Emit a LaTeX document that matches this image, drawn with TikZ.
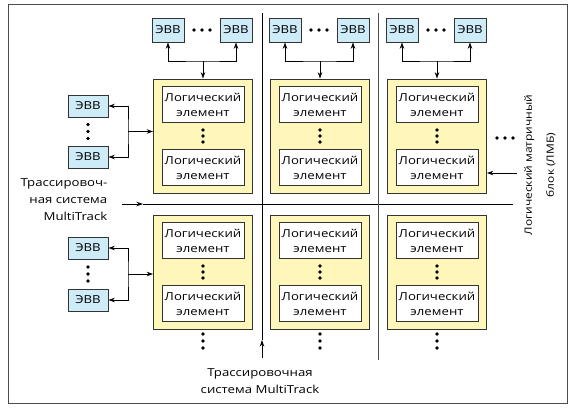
\documentclass[tikz,border=0pt]{standalone}
\usepackage{fontspec}
\setmainfont{Open Sans}[FakeStretch=1.2]
\usetikzlibrary{calc,arrows.meta}

\definecolor{evbblue}{RGB}{205,236,248}
\definecolor{lmbyellow}{RGB}{255,247,185}

\begin{document}
\begin{tikzpicture}[x=1pt,y=-1pt,line width=0.8pt,>={Stealth[length=6.5pt,width=4.5pt]},
    evb/.style={draw=black!80,fill=evbblue,minimum width=32pt,minimum height=24pt,inner sep=0pt,font=\fontsize{11}{12}\selectfont},
    lmb/.style={draw=black!80,fill=lmbyellow,minimum width=99pt,minimum height=114pt,inner sep=0pt},
    le/.style={draw=black!80,fill=white,minimum width=82pt,minimum height=36pt,inner sep=0pt,align=center,font=\fontsize{11}{15}\selectfont},
    dot/.style={circle,fill,inner sep=0pt,minimum size=3.6pt}]
  \useasboundingbox (0,0) rectangle (571,408);
  \draw[black!70] (8,4) rectangle (567,403);% outer frame
  \foreach \c/\x in {1/203,2/320,3/437}{% three columns of blocks
    \foreach \r/\y in {1/136,2/272}{% two rows
      \node[lmb] (lmb\c\r) at (\x,\y) {};
      \node[le] (le\c\r a) at (\x,\y-31.5) {Логический\\элемент};
      \node[le] (le\c\r b) at (\x,\y+31.5) {Логический\\элемент};
      \foreach \d in {-6,0,6} \node[dot] at (\x,\y+\d) {};}
    \node[evb] (evb\c l) at (\x-35,30) {ЭВВ};
    \node[evb] (evb\c r) at (\x+33,30) {ЭВВ};
    \foreach \d in {-8,0,8} \node[dot] at (\x-1+\d,30) {};
    \coordinate (bus\c) at (\x,61);
    \draw[->] (bus\c) -- (lmb\c1.north);
    \draw[<->] (evb\c l.south) |- (bus\c) -| (evb\c r.south);
    \foreach \d in {-7,0,7} \node[dot] at (\x,341+\d) {};}
  % input/output cells on the left
  \foreach \r/\ya/\yb in {1/106/157,2/248/300}{
    \node[evb,minimum width=40pt,minimum height=22pt] (evl\r a) at (88,\ya) {ЭВВ};
    \node[evb,minimum width=40pt,minimum height=22pt] (evl\r b) at (88,\yb) {ЭВВ};
    \foreach \d in {-7,0,7} \node[dot] at (88,{(\ya+\yb)/2+\d}) {};
    \coordinate (tap\r) at (128,{(\ya+\yb)/2});
    \draw[<->] (evl\r a.east) -| (tap\r) |- (evl\r b.east);
    \draw[->] (tap\r) -- (lmb1\r.west |- tap\r);}
  % MultiTrack lines
  \coordinate (hw) at (122,204);
  \coordinate (hm) at (143,204);
  \coordinate (he) at (513,204);
  \draw[->] (hw) -- (hm);
  \draw (hm) -- (he);
  \coordinate (vs) at (262,358);
  \coordinate (vm) at (262,340);
  \coordinate (vn) at (262,13);
  \draw[->] (vs) -- (vm);
  \draw (vm) -- (vn);
  \coordinate (ws) at (378,360);
  \coordinate (wn) at (378,13);
  \draw[black!70] (ws) -- (wn);
  % right side
  \foreach \d in {-8,0,8} \node[dot] at (505+\d,138) {};
  \coordinate (lmbtip) at (517,173);
  \draw[->] (lmbtip) -- (lmb31.east |- lmbtip);
  \node[rotate=90,align=center,font=\fontsize{10}{22}\selectfont] (lmbname) at (540,165) {Логический матричный\\блок (ЛМБ)};
  \node[align=right,anchor=east,font=\fontsize{11}{17}\selectfont] (mtleft) at (111,200) {Трассировоч-\\ная система\\MultiTrack};
  \node[align=center,font=\fontsize{11}{17}\selectfont] (mtbottom) at (260,381) {Трассировочная\\система MultiTrack};
\end{tikzpicture}
\end{document}
